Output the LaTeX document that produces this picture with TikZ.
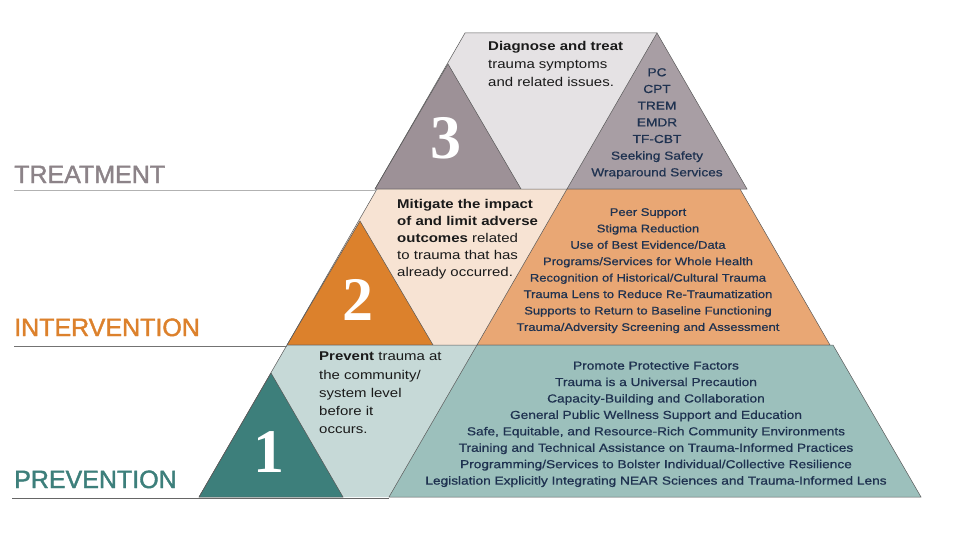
\documentclass[tikz,border=0pt]{standalone}
\usepackage{fontspec}
\usepackage{tikz}
\setmainfont{Liberation Sans}
\newfontfamily\widesans[FakeStretch=1.18]{Liberation Sans}
\newfontfamily\listsans[FakeStretch=1.18, FakeBold=0.7]{Liberation Sans}
\newfontfamily\levelsans[FakeBold=1.6]{Liberation Sans}
\newfontfamily\numserif{Liberation Serif}
\definecolor{treatgray}{HTML}{8C8388}
\definecolor{treatlight}{HTML}{E5E2E4}
\definecolor{treatdark}{HTML}{9D9197}
\definecolor{treatmid}{HTML}{A89EA4}
\definecolor{interorange}{HTML}{DC812C}
\definecolor{interlight}{HTML}{F7E3D3}
\definecolor{intermid}{HTML}{E9A774}
\definecolor{prevteal}{HTML}{3D7F7B}
\definecolor{prevlight}{HTML}{C6D9D7}
\definecolor{prevmid}{HTML}{9CC0BC}
\definecolor{listnavy}{HTML}{1F3250}
\definecolor{desctext}{HTML}{1A1A1A}

\begin{document}
\begin{tikzpicture}[
    x=1pt, y=-1pt,
    tier/.style={draw=black!65, line width=0.5pt},
    level/.style={font=\levelsans\fontsize{25}{30}\selectfont, anchor=base west, inner sep=0pt},
    rule/.style={line width=0.9pt},
    numeral/.style={font=\numserif\bfseries\fontsize{62}{62}\selectfont, text=white, inner sep=0pt},
    desc/.style={font=\widesans\fontsize{12.7}{18}\selectfont, text=desctext, align=left, anchor=north west, inner sep=0pt},
    services/.style={font=\listsans\fontsize{11.6}{16.5}\selectfont, text=listnavy, align=center, anchor=north, inner sep=0pt},
]
\useasboundingbox (0,0) rectangle (960,540);

\fill[treatlight] (465,33) -- (657,33) -- (567,189) -- (375,189) -- cycle;
\draw[tier, fill=treatdark] (375,189) -- (448,64) -- (521,189) -- cycle;
\draw[tier, fill=treatmid] (567,189) -- (657,33) -- (747,189) -- cycle;
\draw[tier] (375,189) -- (465,33) -- (657,33);

\fill[interlight] (377,189) -- (567,189) -- (477,345) -- (287,345) -- cycle;
\draw[tier, fill=interorange] (287,345) -- (360,221) -- (433,345) -- cycle;
\draw[tier, fill=intermid] (567,189) -- (740,189) -- (830,345) -- (477,345) -- cycle;
\draw[tier] (287,345) -- (377,189) -- (567,189);

\fill[prevlight] (287,345) -- (477,345) -- (389,497) -- (199,497) -- cycle;
\draw[tier, fill=prevteal] (199,497) -- (271,373) -- (343,497) -- cycle;
\draw[tier, fill=prevmid] (477,345) -- (833,345) -- (921,497) -- (389,497) -- cycle;
\draw[tier] (199,497) -- (287,345) -- (477,345);

\draw[rule, black!30] (14,190) -- (377,190);
\draw[rule, black!55] (14,346) -- (287,346);
\draw[rule, black!60] (12,498) -- (389,498);

\node[level, text=treatgray] (treatment) at (14,183) {TREATMENT};
\node[level, text=interorange] (intervention) at (14,336) {INTERVENTION};
\node[level, text=prevteal] (prevention) at (14,488) {PREVENTION};

\node[numeral] (three) at (446,138) {3};
\node[numeral] (two) at (358,300) {2};
\node[numeral] (one) at (269,452) {1};

\node[desc] (diagnose) at (488,41) {\textbf{Diagnose and treat}\\trauma symptoms\\and related issues.};
\node[desc, font=\widesans\fontsize{12.7}{17}\selectfont] (mitigate) at (397,199) {\textbf{Mitigate the impact}\\\textbf{of and limit adverse}\\\textbf{outcomes} related\\to trauma that has\\already occurred.};
\node[desc, font=\widesans\fontsize{12.7}{18.2}\selectfont] (prevent) at (319,352) {\textbf{Prevent} trauma at\\the community/\\system level\\before it\\occurs.};

\node[services, font=\listsans\fontsize{11.6}{16.67}\selectfont] (treatlist) at (657,68) {PC\\CPT\\TREM\\EMDR\\TF-CBT\\Seeking Safety\\Wraparound Services};
\node[services, font=\listsans\fontsize{11}{16.43}\selectfont] (interlist) at (648,208) {Peer Support\\Stigma Reduction\\Use of Best Evidence/Data\\Programs/Services for Whole Health\\Recognition of Historical/Cultural Trauma\\Trauma Lens to Reduce Re-Traumatization\\Supports to Return to Baseline Functioning\\Trauma/Adversity Screening and Assessment};
\node[services, font=\listsans\fontsize{11.6}{16.43}\selectfont] (prevlist) at (656,361) {Promote Protective Factors\\Trauma is a Universal Precaution\\Capacity-Building and Collaboration\\General Public Wellness Support and Education\\Safe, Equitable, and Resource-Rich Community Environments\\Training and Technical Assistance on Trauma-Informed Practices\\Programming/Services to Bolster Individual/Collective Resilience\\Legislation Explicitly Integrating NEAR Sciences and Trauma-Informed Lens};
\end{tikzpicture}
\end{document}
